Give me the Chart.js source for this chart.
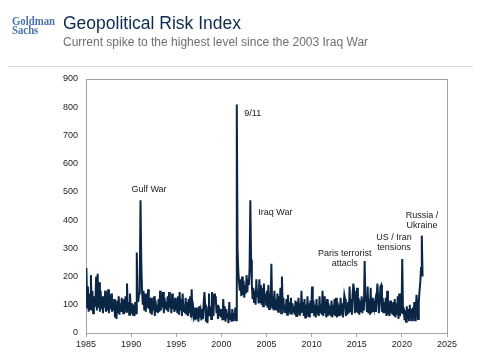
<!DOCTYPE html>
<html><head><meta charset="utf-8">
<script src="https://cdn.jsdelivr.net/npm/chart.js@4"></script>
<style>
html,body{margin:0;padding:0;background:#fff;}
#wrap{position:relative;width:480px;height:355px;overflow:hidden;}
canvas{position:absolute;left:0;top:0;}
.logo{position:absolute;left:12px;top:16.5px;font-family:"Liberation Serif",serif;font-weight:bold;font-size:12.5px;line-height:9px;color:#4a74b0;transform:scaleX(0.86);transform-origin:0 0;}
.title{position:absolute;left:63px;top:14.5px;font-family:"Liberation Sans",Arial,sans-serif;font-size:17.5px;line-height:17.5px;color:#0d2a4f;white-space:nowrap;}
.sub{position:absolute;left:63px;top:35.8px;font-family:"Liberation Sans",Arial,sans-serif;font-size:12px;line-height:12px;color:#6e6e6e;white-space:nowrap;}
.rule{position:absolute;left:8px;top:66px;width:465px;height:1px;background:#d6d6d6;}
</style>
</head><body>
<div id="wrap">
<canvas id="c" width="480" height="355"></canvas>
<div class="logo">Goldman<br>Sachs</div>
<div class="title">Geopolitical Risk Index</div>
<div class="sub">Current spike to the highest level since the 2003 Iraq War</div>
<div class="rule"></div>
</div>
<script>
// ---- data ----
const startYear = 1985; // first month = Jan 1985, monthly values
const gprMonthly = [
  230, 90, 165, 75, 140, 85, 205, 80, 150, 70, 130, 95,   // 1985
  100, 200, 80, 210, 90, 180, 75, 150, 85, 130, 70, 120,  // 1986
  90, 150, 75, 130, 80, 155, 70, 120, 85, 140, 75, 110,   // 1987
  80, 120, 55, 100, 50, 115, 70, 130, 65, 105, 75, 125,   // 1988
  90, 70, 120, 80, 130, 75, 175, 90, 110, 65, 140, 80,    // 1989
  75, 105, 65, 100, 60, 110, 70, 285, 150, 110, 140, 180, // 1990
  470, 250, 150, 100, 150, 80, 140, 75, 120, 90, 155, 85, // 1991
  100, 70, 125, 65, 110, 80, 130, 60, 115, 75, 100, 70,   // 1992
  120, 75, 150, 80, 135, 90, 145, 70, 125, 85, 110, 80,   // 1993
  130, 75, 145, 90, 120, 70, 140, 85, 115, 75, 125, 80,   // 1994
  110, 70, 130, 65, 145, 80, 120, 60, 140, 75, 100, 70,   // 1995
  125, 65, 110, 60, 120, 70, 130, 55, 155, 75, 90, 60,    // 1996
  70, 45, 90, 50, 80, 40, 95, 55, 75, 45, 85, 50,         // 1997
  110, 145, 100, 40, 75, 35, 90, 140, 60, 95, 50, 145,    // 1998
  90, 60, 140, 110, 130, 70, 100, 50, 95, 60, 85, 55,     // 1999
  80, 45, 120, 50, 95, 40, 85, 55, 70, 35, 110, 50,       // 2000
  60, 40, 85, 45, 70, 50, 90, 45, 810, 300, 220, 180,     // 2001
  150, 190, 130, 200, 135, 185, 125, 170, 140, 205, 145, 190, // 2002
  170, 230, 470, 260, 170, 120, 160, 110, 150, 100, 190, 130, // 2003
  150, 105, 190, 110, 170, 100, 160, 95, 175, 110, 140, 100,  // 2004
  150, 90, 170, 85, 140, 95, 245, 90, 130, 80, 150, 85,   // 2005
  120, 80, 140, 75, 130, 85, 160, 70, 200, 90, 125, 75,   // 2006
  100, 70, 120, 65, 135, 75, 110, 70, 125, 65, 105, 75,   // 2007
  95, 65, 115, 60, 110, 70, 125, 65, 105, 70, 150, 75,    // 2008
  110, 60, 120, 55, 100, 65, 130, 60, 105, 55, 115, 70,   // 2009
  165, 70, 115, 60, 100, 55, 120, 65, 95, 60, 130, 70,    // 2010
  100, 65, 150, 60, 130, 70, 110, 55, 120, 60, 105, 65,   // 2011
  95, 60, 115, 55, 100, 65, 120, 60, 125, 55, 110, 60,    // 2012
  100, 60, 125, 65, 105, 55, 95, 135, 120, 60, 100, 65,   // 2013
  110, 70, 165, 75, 120, 65, 140, 175, 150, 70, 115, 75,  // 2014
  160, 70, 125, 65, 115, 75, 130, 70, 120, 80, 255, 110,  // 2015
  130, 75, 165, 70, 120, 65, 160, 70, 125, 75, 115, 90,   // 2016
  110, 75, 130, 175, 120, 70, 110, 165, 170, 75, 125, 70, // 2017
  110, 70, 125, 60, 150, 65, 105, 60, 115, 70, 100, 65,   // 2018
  110, 60, 120, 55, 105, 65, 130, 50, 140, 60, 100, 70,   // 2019
  262, 70, 90, 45, 80, 40, 95, 50, 85, 45, 100, 55,       // 2020
  85, 45, 90, 50, 110, 45, 80, 135, 90, 50, 110, 150,     // 2021
  180, 230, 345, 200                                      // 2022
];
const xTickYears = [1985, 1990, 1995, 2000, 2005, 2010, 2015, 2020, 2025];
const yTickValues = [0, 100, 200, 300, 400, 500, 600, 700, 800, 900];
const eventNames = [['Gulf War'], ['9/11'], ['Iraq War'], ['Paris terrorist', 'attacls'], ['US / Iran', 'tensions'], ['Russia /', 'Ukraine']];
const eventYears = [1991.98, 2002.54, 2004.09, 2013.66, 2019.13, 2022.23];
const eventLevels = [509, 778, 426, 282, 338, 416];
const eventAlign = ['center', 'left', 'left', 'center', 'center', 'center'];

// ---- build ----
const points = gprMonthly.map((v, i) => ({ x: startYear + (i + 0.5) / 12, y: v }));
const FONT = '"Liberation Sans", Arial, sans-serif';

const frameAndLabels = {
  id: 'frameAndLabels',
  beforeDatasetsDraw(chart) {
    const { ctx, chartArea: a } = chart;
    ctx.save();
    ctx.strokeStyle = '#a3a3a3';
    ctx.lineWidth = 1;
    ctx.strokeRect(Math.round(a.left) + 0.5, Math.round(a.top) + 0.5, Math.round(a.right - a.left), Math.round(a.bottom - a.top));
    ctx.restore();
  },
  afterDatasetsDraw(chart) {
    const { ctx, scales } = chart;
    ctx.save();
    ctx.font = '9px ' + FONT;
    ctx.fillStyle = '#1a1a1a';
    ctx.textBaseline = 'middle';
    eventNames.forEach((lines, i) => {
      const px = scales.x.getPixelForValue(eventYears[i]);
      const py = scales.y.getPixelForValue(eventLevels[i]);
      ctx.textAlign = eventAlign[i];
      lines.forEach((t, j) => ctx.fillText(t, px, py + j * 10));
    });
    ctx.restore();
  }
};

new Chart(document.getElementById('c'), {
  type: 'line',
  data: {
    datasets: [{
      data: points,
      borderColor: '#0b2545',
      borderWidth: 2,
      pointRadius: 0,
      tension: 0,
      fill: false
    }]
  },
  options: {
    responsive: false,
    animation: false,
    layout: { padding: { top: 79, right: 33, left: 0, bottom: 0 } },
    plugins: { legend: { display: false }, tooltip: { enabled: false } },
    scales: {
      x: {
        type: 'linear',
        min: 1985, max: 2025,
        afterBuildTicks: s => { s.ticks = xTickYears.map(v => ({ value: v })); },
        afterFit: s => { s.height = 22; },
        ticks: { autoSkip: false, maxRotation: 0, padding: 2, color: '#222', font: { family: FONT, size: 9 }, callback: v => String(v) },
        grid: { drawOnChartArea: false, drawTicks: true, tickLength: 4, color: '#a3a3a3' },
        border: { display: false }
      },
      y: {
        min: 0, max: 900,
        afterBuildTicks: s => { s.ticks = yTickValues.map(v => ({ value: v })); },
        afterFit: s => { s.width = 86; },
        ticks: { padding: 8, color: '#222', font: { family: FONT, size: 9 } },
        grid: { display: false, drawTicks: false },
        border: { display: false }
      }
    }
  },
  plugins: [frameAndLabels]
});
</script>
</body></html>
